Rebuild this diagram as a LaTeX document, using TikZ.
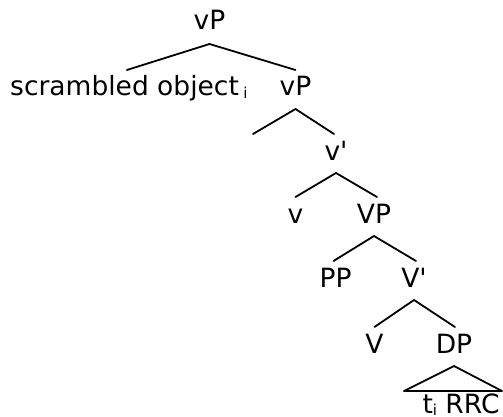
\documentclass[tikz,border=0pt]{standalone}
\usepackage{fontspec}
\setmainfont{DejaVu Sans}[Ligatures=TeXOff]
\newcommand{\subi}{{\fontsize{15}{15}\selectfont\raisebox{-2pt}{i}}}
\begin{document}
\begin{tikzpicture}[x=1pt,y=-1pt,
  lab/.style={inner sep=0pt,anchor=base,font=\fontsize{26.5}{30}\selectfont},
  branch/.style={line width=1.8pt,line cap=round}]
\useasboundingbox (0,0) rectangle (503,417);
\node[lab] (vP1) at (209.5,30) {vP};
\node[lab,anchor=base west] (so) at (10,96) {scrambled object\,\subi};
\node[lab] (vP2) at (295.5,96) {vP};
\node[lab] (vbar) at (336,160) {v'};
\node[lab] (v) at (295.5,223) {v};
\node[lab] (VP) at (374,223) {VP};
\node[lab] (PP) at (335.5,287) {PP};
\node[lab] (Vbar) at (414,287) {V'};
\node[lab] (V) at (374.5,353) {V};
\node[lab] (DP) at (454,353) {DP};
\node[lab] (RRC) at (461,413) {t\subi\ RRC};
\coordinate (empty) at (253,134);
\coordinate (tl) at (404,391);
\coordinate (tr) at (502,391);
% branches
\draw[branch] ([xshift=-2pt,yshift=26pt]so.base) -- ([yshift=-14pt]vP1.base) -- ([yshift=26pt]vP2.base);
\draw[branch] (empty) -- ([yshift=-13pt]vP2.base) -- ([xshift=-2pt,yshift=26pt]vbar.base);
\draw[branch] ([yshift=26pt]v.base) -- ([yshift=-13pt]vbar.base) -- ([xshift=3pt,yshift=26pt]VP.base);
\draw[branch] ([xshift=-2pt,yshift=26pt]PP.base) -- ([yshift=-13pt]VP.base) -- ([xshift=2pt,yshift=26pt]Vbar.base);
\draw[branch] ([yshift=26pt]V.base) -- ([yshift=-13pt]Vbar.base) -- ([xshift=1pt,yshift=26pt]DP.base);
\draw[branch,line join=round] (tl) -- ([yshift=-13pt]DP.base) -- (tr) -- cycle;
\end{tikzpicture}
\end{document}
